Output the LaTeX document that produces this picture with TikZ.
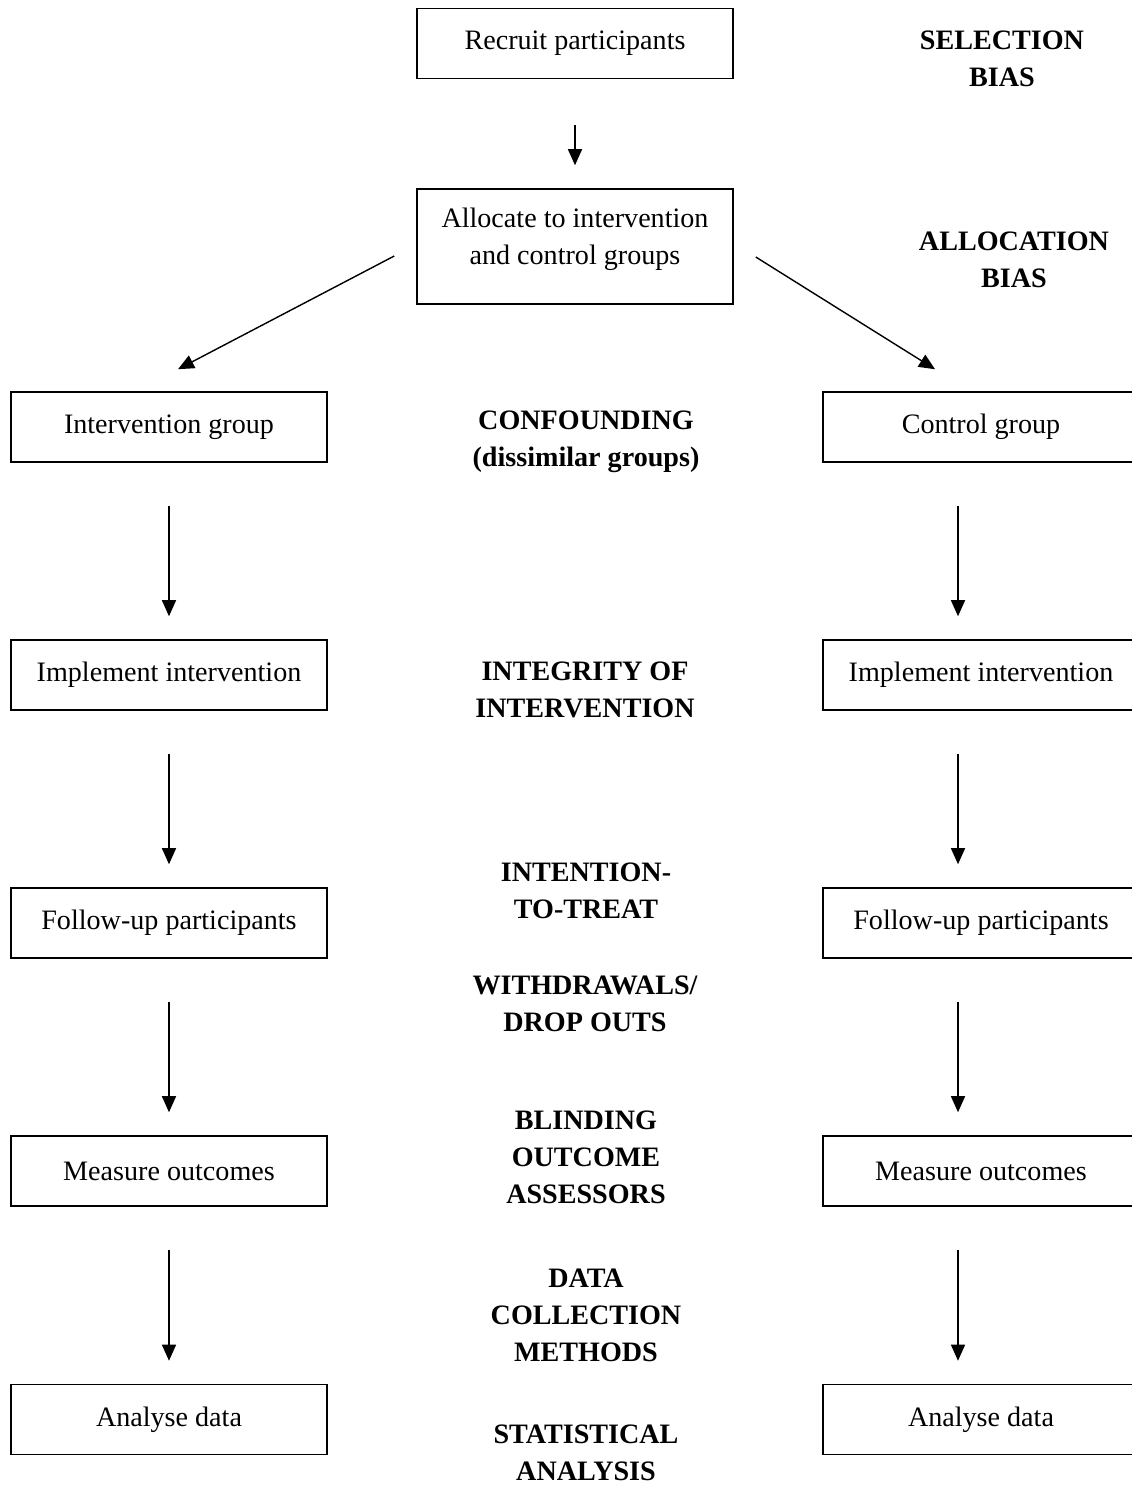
\documentclass[tikz,border=0pt]{standalone}
\usepackage{fontspec}
\setmainfont{Liberation Serif}
\usetikzlibrary{arrows.meta}

\tikzset{
  box/.style={draw,line width=0.9pt,minimum width=6.32cm,minimum height=1.4cm,align=center,font=\fontsize{16}{21}\selectfont},
  bias/.style={align=center,font=\fontsize{16}{21}\selectfont\bfseries},
  arr/.style={line width=0.8pt,-{Triangle[width=0.28cm,length=0.32cm]}}
}

\begin{document}
\begin{tikzpicture}[x=0.02cm,y=-0.02cm]
        \clip (0,0) rectangle (1132,1485);

        % Top boxes
        \node[box] (recruit) at (575,43.5) {Recruit participants};
        \node[box,minimum height=2.3cm,text depth=12pt] (alloc) at (575,246.5) {Allocate to intervention\\and control groups};

        % Left column
        \node[box] (l1) at (169,427) {Intervention group};
        \node[box] (l2) at (169,675) {Implement intervention};
        \node[box] (l3) at (169,923) {Follow-up participants};
        \node[box] (l4) at (169,1171) {Measure outcomes};
        \node[box] (l5) at (169,1419.5) {Analyse data};

        % Right column
        \node[box] (r1) at (981,427) {Control group};
        \node[box] (r2) at (981,675) {Implement intervention};
        \node[box] (r3) at (981,923) {Follow-up participants};
        \node[box] (r4) at (981,1171) {Measure outcomes};
        \node[box] (r5) at (981,1419.5) {Analyse data};

        % Sources of bias
        \node[bias] (selbias) at (1002,59) {SELECTION\\BIAS};
        \node[bias] (allocbias) at (1014,259.5) {ALLOCATION\\BIAS};
        \node[bias] (confound) at (586,442) {CONFOUNDING\\(dissimilar groups)};
        \node[bias] (integrity) at (585,689.5) {INTEGRITY OF\\INTERVENTION};
        \node[bias] (itt) at (586,890.5) {INTENTION-\\TO-TREAT};
        \node[bias] (withdraw) at (585,1003.5) {WITHDRAWALS/\\DROP OUTS};
        \node[bias] (blinding) at (586,1157) {BLINDING\\OUTCOME\\ASSESSORS};
        \node[bias] (datacoll) at (586,1315) {DATA\\COLLECTION\\METHODS};
        \node[bias] (stats) at (586,1453) {STATISTICAL\\ANALYSIS};

        % Arrows
        \draw[arr,shorten <=0.92cm,shorten >=0.46cm] (recruit.south) -- (alloc.north);
        \draw[arr] ([shift={(-22,9.5)}]alloc.west) -- ([shift={(9,-22)}]l1.north);
        \draw[arr] ([shift={(22,10.5)}]alloc.east) -- ([shift={(-46,-22)}]r1.north);

        \foreach \a/\b in {l1/l2,l2/l3,l3/l4,l4/l5} {
          \draw[arr,shorten <=0.86cm,shorten >=0.46cm] (\a.south) -- (\b.north);
        }
        \foreach \a/\b in {r1/r2,r2/r3,r3/r4,r4/r5} {
          \draw[arr,shorten <=0.86cm,shorten >=0.46cm] ([xshift=-0.46cm]\a.south) -- ([xshift=-0.46cm]\b.north);
        }
      \end{tikzpicture}
\end{document}
